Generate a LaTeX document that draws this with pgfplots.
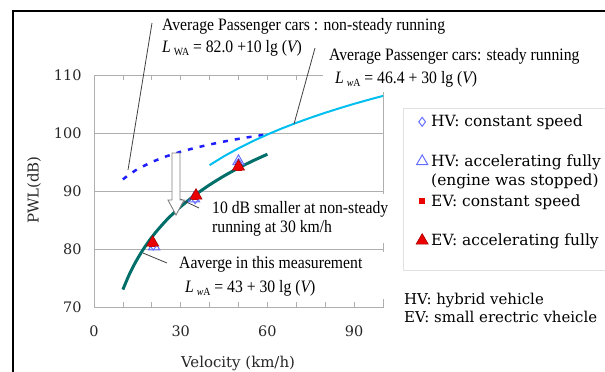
\documentclass[border=0pt]{standalone}
\usepackage{pgfplots}
\pgfplotsset{compat=1.18}
\usepackage{fontspec}
\newfontfamily\tms{Liberation Serif}[FakeStretch=0.9]
\newfontfamily\dvs{DejaVu Serif}

\definecolor{measteal}{RGB}{0,110,105}
\definecolor{steadycyan}{RGB}{0,190,240}
\definecolor{nsblue}{RGB}{30,30,255}
\definecolor{gridgray}{RGB}{175,175,175}
\definecolor{evred}{RGB}{235,0,0}
\definecolor{hvblue}{RGB}{100,110,255}
\definecolor{legframe}{RGB}{225,225,225}

% legend text: first line sets the row, second line hangs below it
\newcommand\legtext[2]{\hspace{3bp}\rlap{\smash{\raisebox{-19.5bp}{\strut#2}}}\strut#1}
% sound power level symbol with lowered index
\newcommand\Lw[1]{{\itshape L}\,\raisebox{-3.5bp}{\fontsize{11}{11}\selectfont #1}}
\newcommand\anno{\tms\fontsize{17.5}{19}\selectfont}
\newcommand\lab{\dvs\fontsize{15}{19.5}\selectfont}
\newcommand\legfont{\dvs\fontsize{15.5}{19.5}\selectfont}

\begin{document}
\begin{tikzpicture}
\begin{axis}[
  at={(94bp,-307bp)}, anchor=south west,
  scale only axis, width=289bp, height=232bp,
  xmin=0, xmax=100, ymin=70, ymax=110,
  xtick={0,30,60,90}, minor xtick={10,20,40,50,70,80},
  ytick={70,80,90,100,110},
  tick align=inside, major tick length=5bp, minor tick length=5bp,
  every tick/.style={gridgray, line width=0.8bp},
  ytick style={draw=none},
  ymajorgrids, grid style={gridgray, line width=1bp},
  axis line style={gridgray, line width=1bp},
  /pgf/number format/assume math mode=true,
  tick label style={font=\dvs\fontsize{14.5}{14.5}\selectfont, text=black!85},
  xticklabel shift=15bp, yticklabel shift=9bp,
  legend style={at={(1.100,0.849)}, anchor=north west, draw=none, fill=none,
    font=\legfont, inner xsep=4bp, inner ysep=3bp,
    row sep=24.5bp, nodes={inner sep=0pt, anchor=base west}},
  legend image code/.code={\draw[#1,mark repeat=2,mark phase=2]
    plot coordinates {(0bp,5bp) (10bp,5bp) (20bp,5bp)};},
]
% average passenger cars, non-steady running: 82.0 + 10 lg V
\addplot[nsblue, line width=2.5bp, dash pattern=on 5bp off 7bp, forget plot] coordinates {
 (10,92.00) (12,92.79) (15,93.76) (20,95.01) (25,95.98) (30,96.77)
 (35,97.44) (40,98.02) (45,98.53) (50,98.99) (55,99.40) (59,99.71)};
% average passenger cars, steady running: 46.4 + 30 lg V
\addplot[steadycyan, line width=2bp, forget plot] coordinates {
 (40,94.46) (45,96.00) (50,97.37) (55,98.61) (60,99.74) (65,100.79)
 (70,101.75) (75,102.65) (80,103.49) (85,104.28) (90,105.03) (95,105.73) (100,106.40)};
% average of this measurement: 43 + 30 lg V
\addplot[measteal, line width=3bp, smooth, forget plot] coordinates {
 (10,73.00) (12,75.38) (14,77.38) (16,79.12) (18,80.66) (20,82.03) (22,83.27)
 (25,84.94) (28,86.41) (30,87.31) (35,89.32) (40,91.06) (45,92.60) (50,93.97)
 (55,95.21) (60,96.34)};

\addplot[only marks, mark=diamond, mark size=4.5bp, hvblue, mark options={line width=1bp}]
 coordinates {(20.5,80.6) (35,88.6) (50,94.8)};
\addlegendentry{\legtext{HV: constant speed}{}}
\addplot[only marks, mark=triangle, mark size=6.5bp, hvblue, mark options={line width=1bp}]
 coordinates {(20.8,80.4) (34.6,88.7) (50,95.1)};
\addlegendentry{\legtext{HV: accelerating fully}{(engine was stopped)}}
\addplot[only marks, mark=square*, mark size=2.5bp, evred]
 coordinates {(20,81) (35,89) (50,94)};
\addlegendentry{\legtext{EV: constant speed}{}}
\addplot[only marks, mark=triangle*, mark size=7bp,
 mark options={fill=evred, draw=evred!70!black, line width=0.6bp}]
 coordinates {(20.3,81.1) (35.3,89.2) (50,94.2)};
\addlegendentry{\legtext{EV: accelerating fully}{}}
\end{axis}

\begin{scope}[x=1bp, y=-1bp]
  % page frame
  \draw[line width=2.5bp] (13,373) -- (13,11) -- (607,11);
  % legend frame
  \draw[legframe, line width=1bp] (403,108) rectangle (612,270);
  % leader lines
  \draw[black!75, line width=0.8bp] (152,23) -- (128,170);
  \draw[black!75, line width=0.8bp] (315,48) -- (294,124);
  \draw[black!75, line width=0.8bp] (178,198) -- (199,208);
  \draw[black!75, line width=0.8bp] (143,253) -- (167,263);
  % hollow arrow: 10 dB drop at 30 km/h
  \draw[gray, fill=white, line width=0.9bp]
    (172,153) -- (180,153) -- (180,200) -- (184,200) -- (176,215)
    -- (168,200) -- (172,200) -- cycle;
  % white backgrounds behind the annotations
  \fill[white] (323,65) rectangle (392,92);
  \fill[white] (206,194) rectangle (392,243);
  \fill[white] (173,252) rectangle (392,299);
  % annotations
  \begin{scope}[every node/.style={anchor=base west, inner sep=0pt, font=\anno}]
    \node at (162,30) {Average Passenger cars : non-steady running};
    \node at (162,52) {\Lw{WA} = 82.0 +10 lg ({\itshape V})};
    \node at (329,60) {Average Passenger cars: steady running};
    \node at (335,83) {\Lw{{\itshape w}A} = 46.4 + 30 lg ({\itshape V})};
    \node at (212,213) {10 dB smaller at non-steady};
    \node at (212,232) {running at 30 km/h};
    \node at (179,268) {Aaverge in this measurement};
    \node at (185,292) {\Lw{{\itshape w}A} = 43 + 30 lg ({\itshape V})};
  \end{scope}
  % axis titles
  \node[rotate=90, font=\lab, text=black!85] at (34,190) {PWL(dB)};
  \node[anchor=base, font=\lab, text=black!85] at (238,367) {Velocity (km/h)};
  % abbreviations
  \node[anchor=base west, inner sep=0pt, font=\lab] at (404,304) {HV: hybrid vehicle};
  \node[anchor=base west, inner sep=0pt, font=\lab] at (404,322) {EV: small erectric vheicle};
  \pgfresetboundingbox
  \path (0,0) rectangle (605,371);
\end{scope}
\end{tikzpicture}
\end{document}
